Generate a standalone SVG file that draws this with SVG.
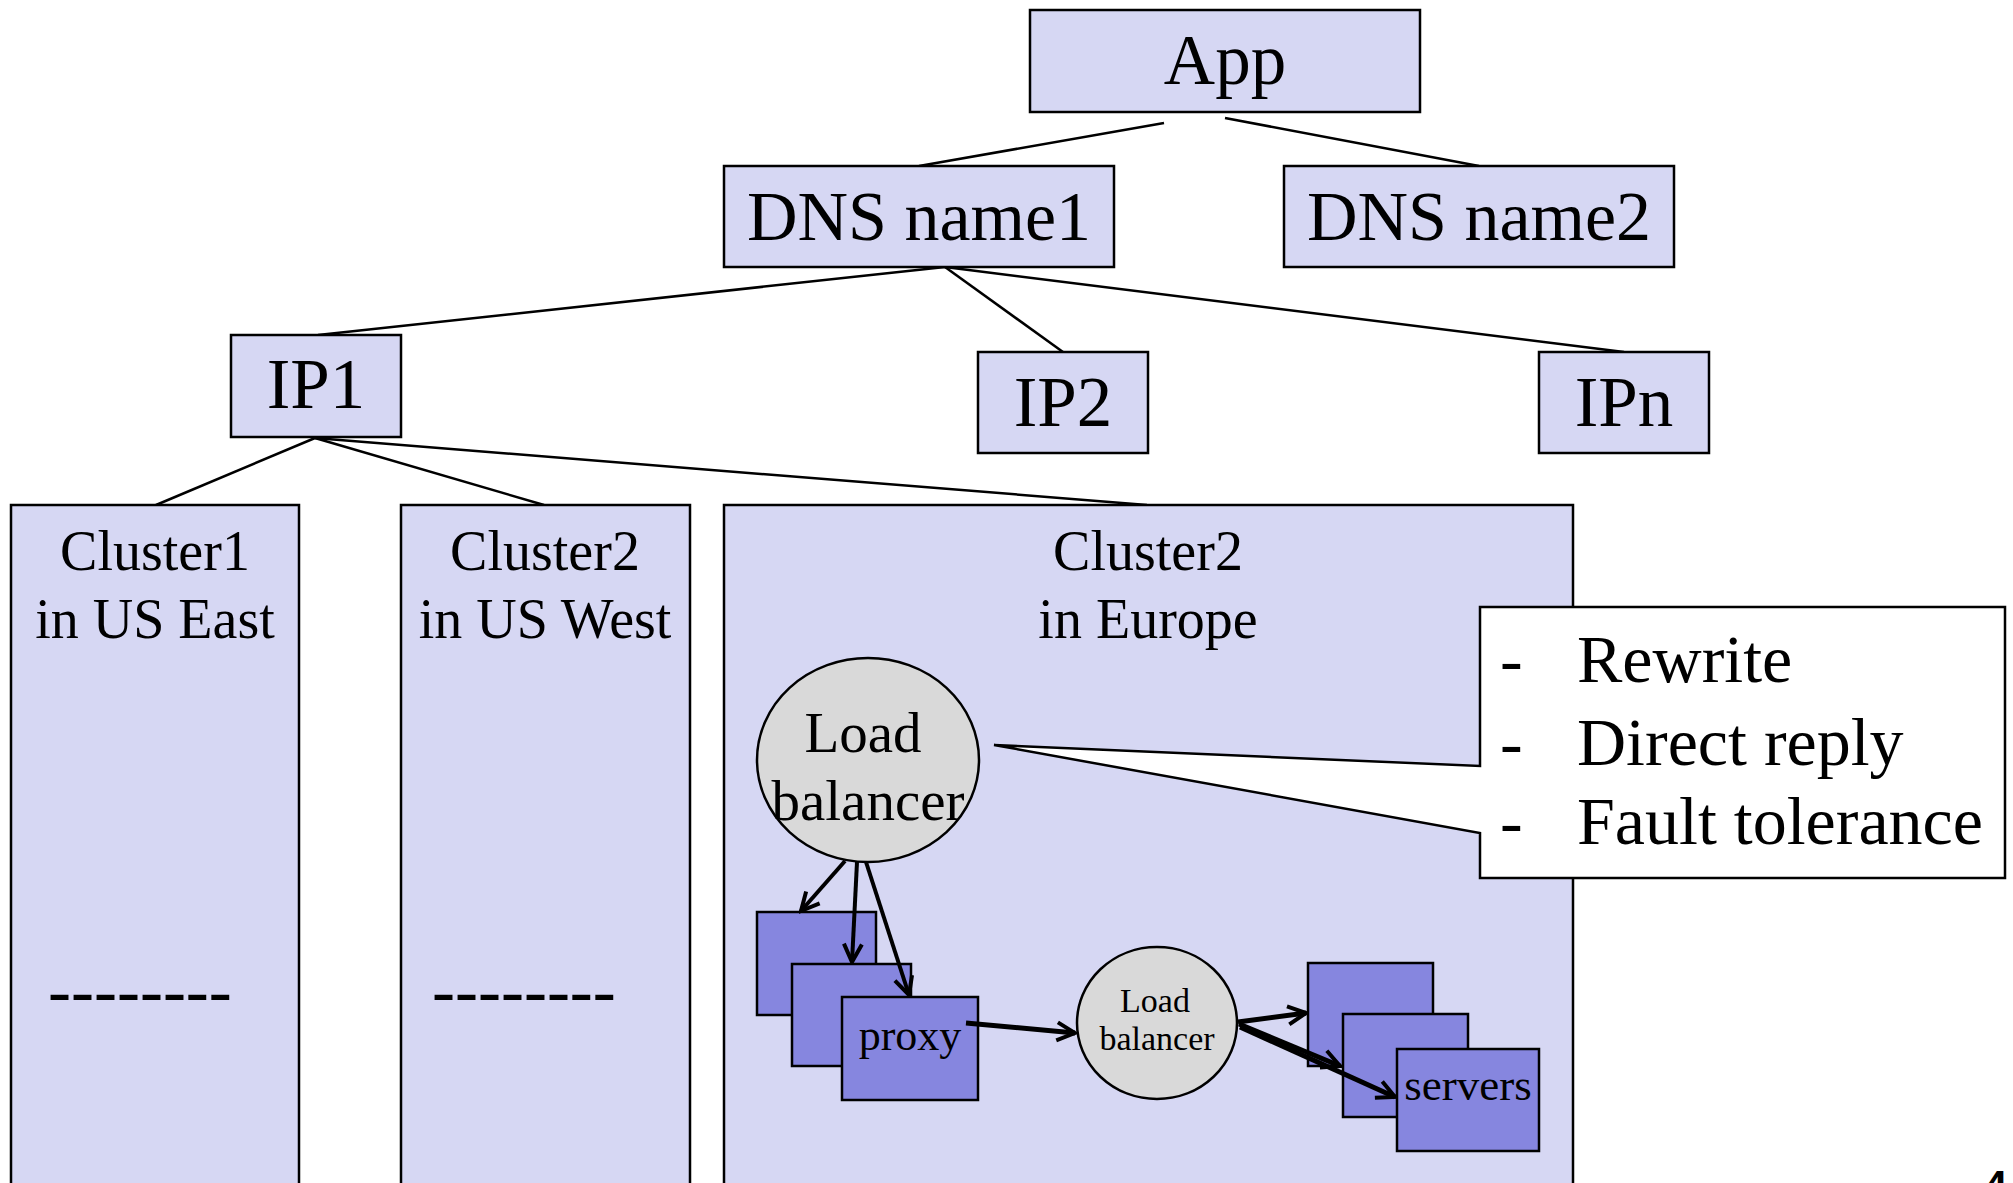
<svg xmlns="http://www.w3.org/2000/svg" width="2013" height="1183" viewBox="0 0 2013 1183">
<style>
.box{fill:#d6d7f3;stroke:#000;stroke-width:2.5}
.dark{fill:#8686df;stroke:#000;stroke-width:2.5}
.ell{fill:#d9d9d9;stroke:#000;stroke-width:2.5}
.t{font-family:"Liberation Serif","Times New Roman",serif;fill:#000;text-anchor:middle}
.tl{font-family:"Liberation Serif","Times New Roman",serif;fill:#000}
.ln{stroke:#000;stroke-width:2.5;fill:none}
.ar{stroke:#000;stroke-width:4;fill:none;marker-end:url(#arr)}
.arb{stroke:#000;stroke-width:5;fill:none;marker-end:url(#arr)}
</style>
<defs>
<marker id="arr" viewBox="0 0 24 24" refX="21" refY="12" markerWidth="24" markerHeight="24" markerUnits="userSpaceOnUse" orient="auto">
<path d="M3,3 L21,12 L3,21" fill="none" stroke="#000" stroke-width="4"/>
</marker>
</defs>
<rect width="2013" height="1183" fill="#fff"/>

<g id="connectors">
<line class="ln" x1="1164" y1="123" x2="919" y2="166"/>
<line class="ln" x1="1225" y1="118" x2="1479" y2="166"/>
<line class="ln" x1="945" y1="267" x2="318" y2="335"/>
<line class="ln" x1="945" y1="267" x2="1063" y2="352"/>
<line class="ln" x1="945" y1="267" x2="1624" y2="352"/>
<line class="ln" x1="315" y1="438" x2="156" y2="505"/>
<line class="ln" x1="315" y1="438" x2="544" y2="505"/>
<line class="ln" x1="315" y1="438" x2="1147" y2="505"/>
</g>

<g id="app"><rect class="box" x="1030" y="10" width="390" height="102"/><text class="t" x="1225" y="84" font-size="71">App</text></g>
<g id="dns1"><rect class="box" x="724" y="166" width="390" height="101"/><text class="t" x="919" y="240" font-size="70">DNS name1</text></g>
<g id="dns2"><rect class="box" x="1284" y="166" width="390" height="101"/><text class="t" x="1479" y="240" font-size="70">DNS name2</text></g>
<g id="ip1"><rect class="box" x="231" y="335" width="170" height="102"/><text class="t" x="316" y="408" font-size="71">IP1</text></g>
<g id="ip2"><rect class="box" x="978" y="352" width="170" height="101"/><text class="t" x="1063" y="426" font-size="71">IP2</text></g>
<g id="ipn"><rect class="box" x="1539" y="352" width="170" height="101"/><text class="t" x="1624" y="426" font-size="71">IPn</text></g>

<g id="cluster1"><rect class="box" x="11" y="505" width="288" height="700"/>
<text class="t" x="155" y="570" font-size="56">Cluster1</text><text class="t" x="155" y="638" font-size="56">in US East</text>
<text class="tl" x="48" y="1014" font-size="69">--------</text></g>
<g id="cluster2"><rect class="box" x="401" y="505" width="289" height="700"/>
<text class="t" x="545" y="570" font-size="56">Cluster2</text><text class="t" x="545" y="638" font-size="56">in US West</text>
<text class="tl" x="432" y="1014" font-size="69">--------</text></g>
<g id="cluster3"><rect class="box" x="724" y="505" width="849" height="700"/>
<text class="t" x="1148" y="570" font-size="56">Cluster2</text><text class="t" x="1148" y="638" font-size="56">in Europe</text></g>

<g id="lb1"><ellipse class="ell" cx="868" cy="760" rx="111" ry="102"/>
<text class="t" x="863" y="752" font-size="57">Load</text><text class="t" x="868" y="820" font-size="57">balancer</text></g>

<g id="proxies">
<rect class="dark" x="757" y="912" width="119" height="103"/>
<rect class="dark" x="792" y="964" width="119" height="102"/>
<rect class="dark" x="842" y="997" width="136" height="103"/>
<text class="t" x="910" y="1050" font-size="44">proxy</text></g>

<g id="lb2"><ellipse class="ell" cx="1157" cy="1023" rx="80" ry="76"/>
<text class="t" x="1155" y="1012" font-size="34">Load</text><text class="t" x="1157" y="1050" font-size="34">balancer</text></g>

<g id="servers">
<rect class="dark" x="1308" y="963" width="125" height="103"/>
<rect class="dark" x="1343" y="1014" width="125" height="103"/>
<rect class="dark" x="1397" y="1049" width="142" height="102"/>
<text class="t" x="1468" y="1100" font-size="45">servers</text></g>

<g id="arrows">
<line class="ar" x1="845" y1="861" x2="801" y2="911"/>
<line class="ar" x1="857" y1="862" x2="852" y2="962"/>
<line class="ar" x1="866" y1="862" x2="909" y2="995"/>
<line class="arb" x1="966" y1="1023" x2="1075" y2="1033"/>
<line class="arb" x1="1238" y1="1022" x2="1306" y2="1013"/>
<line class="arb" x1="1239" y1="1024" x2="1340" y2="1066"/>
<line class="arb" x1="1240" y1="1027" x2="1395" y2="1097"/>
</g>

<g id="callout">
<path d="M1480,607 H2005 V878 H1480 V833 L994,745 L1480,766 Z" fill="#fff" stroke="#000" stroke-width="2.5"/>
<text class="tl" x="1500" y="682" font-size="68">-</text><text class="tl" x="1577" y="682" font-size="68">Rewrite</text>
<text class="tl" x="1500" y="765" font-size="68">-</text><text class="tl" x="1577" y="765" font-size="68">Direct reply</text>
<text class="tl" x="1500" y="844" font-size="68">-</text><text class="tl" x="1577" y="844" font-size="68">Fault tolerance</text>
</g>
<text x="1984" y="1200" font-family="Liberation Sans, Arial, sans-serif" font-size="42" font-weight="bold">4</text>
</svg>
